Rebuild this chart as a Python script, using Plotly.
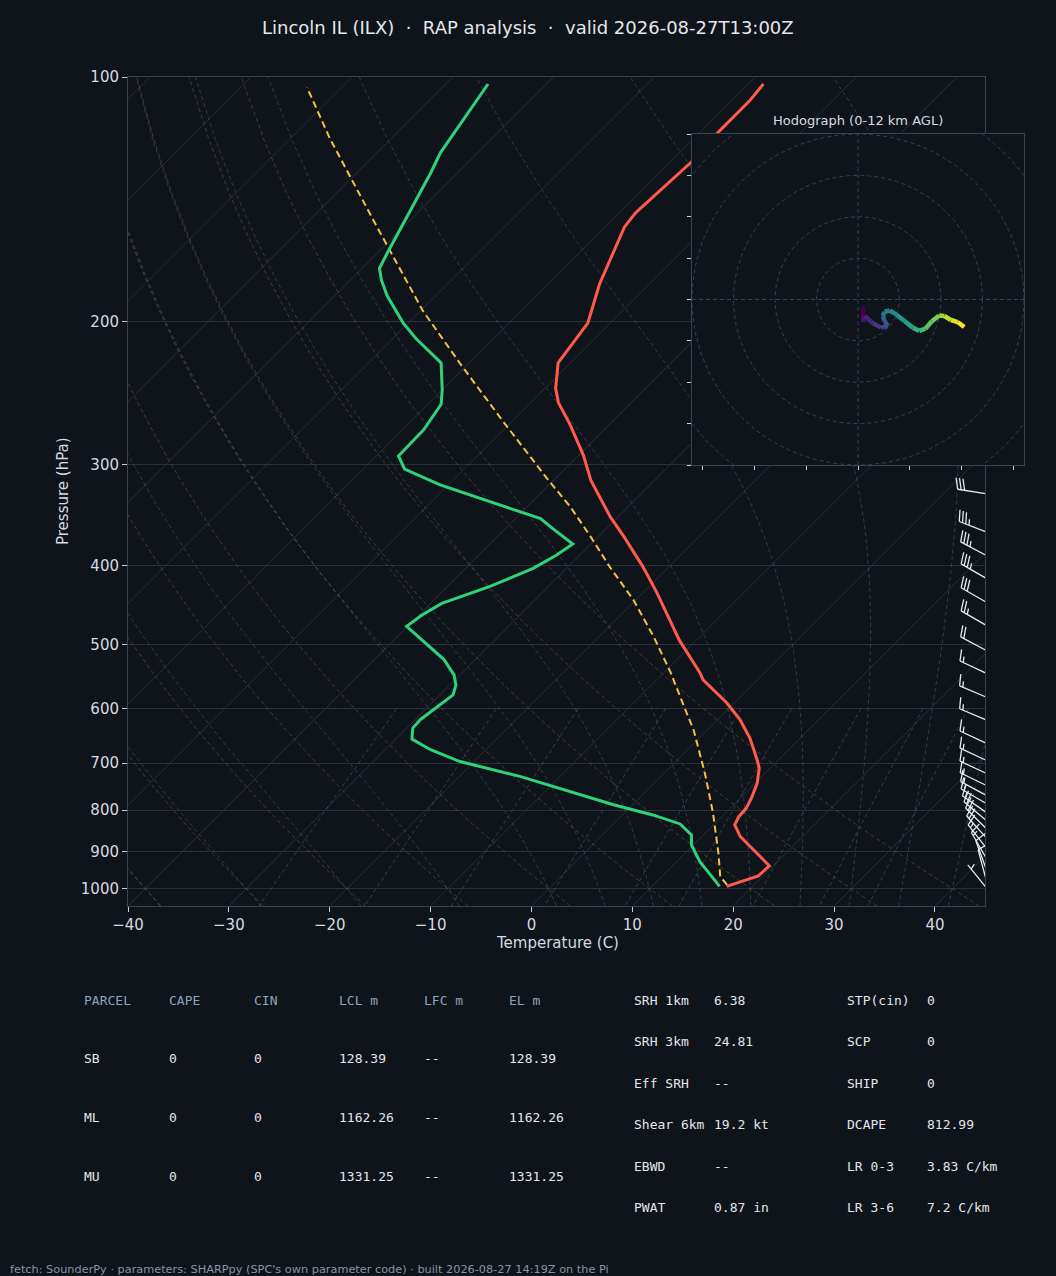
import numpy as np
import plotly.graph_objects as go
from plotly.colors import sample_colorscale

# ---- sounding values (hPa / degC) ----
temp_p = [993, 964, 937, 862, 834, 815, 796, 773, 741, 710, 694, 652, 619, 590, 553, 542,
          494, 432, 401, 368, 348, 326, 314, 292, 268, 252, 242, 225, 201, 180, 171, 153,
          147, 127, 117, 107, 102]
temp_c = [17.4, 19.5, 19.6, 13.8, 12.1, 11.7, 11.6, 11.1, 10.2, 8.9, 7.9, 5.0, 2.2, -0.8, -5.4, -6.4,
          -11.7, -18.6, -22.6, -27.5, -30.8, -34.3, -36.3, -39.6, -43.9, -47.2, -48.9, -51.2, -52.2, -54.9, -55.9, -58.1,
          -58.4, -57.9, -58.2, -58.2, -58.5]

dwpt_p = [993, 926, 883, 858, 832, 811, 788, 766, 748, 727, 697, 674, 654, 634, 619, 604,
          577, 561, 545, 522, 475, 460, 445, 424, 403, 388, 376, 360, 350, 318, 304, 293,
          272, 253, 243, 225, 210, 201, 186, 178, 172, 165, 131, 124, 102]
dwpt_c = [16.7, 12.3, 9.8, 8.8, 6.6, 3.0, -1.9, -6.2, -9.7, -14.0, -21.4, -25.5, -28.4, -29.4, -29.5, -29.2,
          -28.7, -29.4, -30.6, -33.1, -40.1, -39.7, -38.9, -35.8, -33.3, -32.3, -31.8, -35.3, -37.5, -50.8, -55.9, -57.8,
          -57.9, -58.7, -60.0, -62.8, -67.7, -70.5, -74.8, -76.9, -78.3, -79.0, -82.7, -83.7, -85.8]

prcl_p = [989, 966, 904, 807, 720, 637, 608, 542, 489, 441, 401, 368, 338, 312, 265, 226, 194, 150, 119, 103]
prcl_c = [17.3, 15.8, 13.3, 8.8, 4.0, -1.4, -3.7, -9.3, -14.6, -20.2, -25.9, -30.8, -35.8, -40.9, -51.0,
          -60.7, -69.8, -83.7, -96.1, -103.4]

# wind barbs (kt, direction from)
barb_p = [994, 967, 940, 913, 888, 863, 841, 822, 804, 784, 766, 745, 720, 694, 661, 619, 580, 542,
          508, 473, 443, 414, 388, 363, 326]
barb_spd = [5, 10, 10, 15, 15, 20, 20, 20, 15, 15, 15, 15, 15, 15, 15, 15, 15, 15, 20, 25, 30, 35, 35, 35, 30]
barb_dir = [321, 345, 340, 330, 322, 318, 315, 310, 305, 300, 298, 296, 295, 295, 295, 293, 293, 295,
            298, 300, 300, 300, 298, 291, 279]

# hodograph (kt)
hodo_u = [2.4, 2.4, 3.2, 7.2, 11.2, 14.4, 12.8, 12.0, 12.8, 15.2, 18.4, 22.4, 26.4, 29.6, 32.5, 35.7,
          39.2, 41.6, 44.8, 48.0, 51.2]
hodo_v = [-3.5, -10.9, -8.0, -11.5, -13.6, -12.8, -10.4, -8.0, -5.9, -5.3, -7.2, -10.4, -13.6, -15.2,
          -14.1, -10.4, -7.7, -8.0, -9.9, -10.9, -13.3]

# background reference lines
DRY_T0 = list(range(-40, 41, 10))
MOIST_T0 = [-40, -30, -20, -10, 0, 5, 10, 15, 20, 25, 30, 35, 40, 45]
MIX_W = [0.0004, 0.001, 0.002, 0.004, 0.007, 0.01, 0.016, 0.024, 0.032]
ISOTHERMS = list(range(-120, 41, 10))

# table
tbl_head = ["PARCEL", "CAPE", "CIN", "LCL m", "LFC m", "EL m"]
tbl_rows = [["SB", "0", "0", "128.39", "--", "128.39"],
            ["ML", "0", "0", "1162.26", "--", "1162.26"],
            ["MU", "0", "0", "1331.25", "--", "1331.25"]]
idx_left = [("SRH 1km", "6.38"), ("SRH 3km", "24.81"), ("Eff SRH", "--"),
            ("Shear 6km", "19.2 kt"), ("EBWD", "--"), ("PWAT", "0.87 in")]
idx_right = [("STP(cin)", "0"), ("SCP", "0"), ("SHIP", "0"),
             ("DCAPE", "812.99"), ("LR 0-3", "3.83 C/km"), ("LR 3-6", "7.2 C/km")]

# ---- layout geometry ----
FIG_W, FIG_H = 1056, 1276
PL, PR, PT, PB = 128, 985.4, 77, 906
W_PX, H_PX = PR - PL, PB - PT
T_MIN, T_MAX = -40, 45
P_BOT, P_TOP = 1050, 100
LOGSPAN = np.log10(P_BOT) - np.log10(P_TOP)
SKEW = H_PX / (W_PX / (T_MAX - T_MIN))   # 45 degree skew

BG = "#0f131a"
GRID = "#29303a"
SPINE = "#3a4350"
TXT = "#d6dae0"


def fx(px):
    return px / FIG_W


def fy(py):
    return 1 - py / FIG_H


def skew_x(t, p):
    t = np.asarray(t, dtype=float)
    p = np.asarray(p, dtype=float)
    return t + SKEW * (np.log10(P_BOT) - np.log10(p)) / LOGSPAN


def joined(curves):
    xs, ys = [], []
    for x, y in curves:
        xs += list(x) + [None]
        ys += list(y) + [None]
    return xs, ys


RD, CP, LV = 287.04, 1005.7, 2.501e6


def moist_dtdp(p, t):
    tc = t - 273.15
    es = 6.112 * np.exp(17.67 * tc / (tc + 243.5))
    rs = 0.622 * es / (p - es)
    return (RD * t + LV * rs) / (CP + LV * LV * rs * 0.622 / (RD * t * t)) / p


def moist_curve(t0c, p_out):
    def run(p_steps):
        t = t0c + 273.15
        out = [t]
        for i in range(len(p_steps) - 1):
            p0, h = p_steps[i], p_steps[i + 1] - p_steps[i]
            k1 = moist_dtdp(p0, t)
            k2 = moist_dtdp(p0 + h / 2, t + h * k1 / 2)
            k3 = moist_dtdp(p0 + h / 2, t + h * k2 / 2)
            k4 = moist_dtdp(p0 + h, t + h * k3)
            t = t + h * (k1 + 2 * k2 + 2 * k3 + k4) / 6
            out.append(t)
        return np.array(out)
    up = np.arange(1000, P_TOP - 1, -2.0)
    dn = np.arange(1000, P_BOT + 1, 2.0)
    t_up, t_dn = run(up), run(dn)
    p_all = np.concatenate([up[::-1], dn[1:]])
    t_all = np.concatenate([t_up[::-1], t_dn[1:]])
    return np.interp(p_out, p_all, t_all) - 273.15


fig = go.Figure()

p_grid = np.linspace(P_BOT, P_TOP, 50)

# isotherms
iso = [(skew_x([t, t], [P_BOT, P_TOP]), [P_BOT, P_TOP]) for t in ISOTHERMS]
x, y = joined(iso)
fig.add_trace(go.Scatter(x=x, y=y, mode="lines", line=dict(color=GRID, width=1), hoverinfo="skip"))

# dry adiabats
dry = []
for t0 in DRY_T0:
    t = (t0 + 273.15) * (p_grid / 1000.0) ** 0.2857 - 273.15
    dry.append((skew_x(t, p_grid), p_grid))
x, y = joined(dry)
fig.add_trace(go.Scatter(x=x, y=y, mode="lines", hoverinfo="skip",
                         line=dict(color="rgba(165,115,60,0.42)", width=1, dash="4px,3px")))

# moist adiabats
moist = [(skew_x(moist_curve(t0, p_grid), p_grid), p_grid) for t0 in MOIST_T0]
x, y = joined(moist)
fig.add_trace(go.Scatter(x=x, y=y, mode="lines", hoverinfo="skip",
                         line=dict(color="rgba(110,130,155,0.36)", width=1, dash="4px,3px")))

# mixing ratio lines
p_mix = np.linspace(600, P_BOT, 30)
mix = []
for w in MIX_W:
    e = p_mix * w / (0.622 + w)
    lg = np.log(e / 6.112)
    td = 243.5 * lg / (17.67 - lg)
    mix.append((skew_x(td, p_mix), p_mix))
x, y = joined(mix)
fig.add_trace(go.Scatter(x=x, y=y, mode="lines", hoverinfo="skip",
                         line=dict(color="rgba(95,135,150,0.40)", width=1, dash="4px,3px")))

# profiles
fig.add_trace(go.Scatter(x=skew_x(prcl_c, prcl_p), y=prcl_p, mode="lines",
                         line=dict(color="#f4c242", width=2, dash="7px,4px")))
fig.add_trace(go.Scatter(x=skew_x(temp_c, temp_p), y=temp_p, mode="lines",
                         line=dict(color="#ff5a4b", width=3)))
fig.add_trace(go.Scatter(x=skew_x(dwpt_c, dwpt_p), y=dwpt_p, mode="lines",
                         line=dict(color="#2fd27a", width=3)))


# wind barbs along the right edge
def barb_lines(pres, spd, drc, length=28.0):
    ppd = W_PX / (T_MAX - T_MIN)
    ppdec = H_PX / LOGSPAN
    xs, ys = [], []
    spacing, hgt, wid = 0.125 * length, 0.4 * length, 0.25 * length
    for p, s_kt, d in zip(pres, spd, drc):
        r = np.deg2rad(d)
        sx, sy = np.sin(r), np.cos(r)
        nx, ny = sy, -sx
        bx = (T_MAX - T_MIN) * ppd
        by = (np.log10(P_BOT) - np.log10(p)) * ppdec

        def pt(off, h=0.0, a=0.0):
            return (bx + (off + a) * sx + h * nx, by + (off + a) * sy + h * ny)

        segs = [(pt(0), pt(length))]
        rem = int(5 * round(s_kt / 5.0))
        n50, rem = divmod(rem, 50)
        n10, rem = divmod(rem, 10)
        off = length
        for _ in range(n50):
            if off != length:
                off += spacing / 2
            segs += [(pt(off), pt(off, hgt, -wid / 2)), (pt(off, hgt, -wid / 2), pt(off - wid))]
            off -= wid + spacing
        for _ in range(n10):
            segs.append((pt(off), pt(off, hgt, wid / 2)))
            off -= spacing
        if rem >= 5:
            if off == length:
                off -= 1.5 * spacing
            segs.append((pt(off), pt(off, hgt / 2, wid / 4)))
        for a, b in segs:
            for X, Y in (a, b):
                xs.append(T_MIN + X / ppd)
                ys.append(10 ** (np.log10(P_BOT) - Y / ppdec))
            xs.append(None)
            ys.append(None)
    return xs, ys


bx, by = barb_lines(barb_p, barb_spd, barb_dir)
fig.add_trace(go.Scatter(x=bx, y=by, mode="lines", line=dict(color="#e6ebf0", width=1.3), hoverinfo="skip"))

# ---- hodograph inset ----
theta = np.linspace(0, 2 * np.pi, 181)
rings = [(r * np.cos(theta), r * np.sin(theta)) for r in (20, 40, 60, 80, 100)]
rings += [([-80, 80], [0, 0]), ([0, 0], [-80, 80])]
x, y = joined(rings)
fig.add_trace(go.Scatter(x=x, y=y, mode="lines", xaxis="x2", yaxis="y2", hoverinfo="skip",
                         line=dict(color="#364050", width=1, dash="4px,3px")))

seg_cols = sample_colorscale("Viridis", list(np.linspace(0, 1, len(hodo_u) - 1)))
for i in range(len(hodo_u) - 1):
    fig.add_trace(go.Scatter(x=hodo_u[i:i + 2], y=hodo_v[i:i + 2], mode="lines",
                             xaxis="x2", yaxis="y2", hoverinfo="skip",
                             line=dict(color=seg_cols[i], width=4.5)))

# ---- axes ----
fig.update_layout(
    width=FIG_W, height=FIG_H, autosize=False,
    margin=dict(l=0, r=0, t=0, b=0, pad=0),
    paper_bgcolor=BG, plot_bgcolor=BG, showlegend=False,
    font=dict(family="DejaVu Sans", color=TXT),
    xaxis=dict(domain=[fx(PL), fx(PR)], range=[T_MIN, T_MAX], anchor="y", automargin=False,
               tickvals=list(range(-40, 41, 10)),
               ticktext=[str(v).replace("-", "\u2212") for v in range(-40, 41, 10)],
               ticks="outside", ticklen=5, tickcolor="#c9ced6", tickfont=dict(size=15, color=TXT),
               showgrid=False, zeroline=False, showline=True, mirror=True, linecolor=SPINE),
    yaxis=dict(domain=[fy(PB), fy(PT)], type="log", anchor="x", automargin=False,
               range=[np.log10(P_BOT), np.log10(P_TOP)],
               tickvals=list(range(100, 1001, 100)), ticktext=[str(v) for v in range(100, 1001, 100)],
               ticks="outside", ticklen=5, tickcolor="#c9ced6", tickfont=dict(size=15, color=TXT),
               showgrid=True, gridcolor=GRID, gridwidth=1, zeroline=False,
               showline=True, mirror=True, linecolor=SPINE),
    xaxis2=dict(domain=[fx(692), fx(1024)], range=[-80, 80], anchor="y2", automargin=False,
                tickvals=list(range(-75, 76, 25)), showticklabels=False,
                ticks="outside", ticklen=4, tickcolor="#c9ced6",
                showgrid=False, zeroline=False, showline=True, mirror=True, linecolor=SPINE),
    yaxis2=dict(domain=[fy(465), fy(134)], range=[-80, 80], anchor="x2", automargin=False,
                tickvals=list(range(-80, 81, 20)), showticklabels=False,
                ticks="outside", ticklen=4, tickcolor="#c9ced6",
                showgrid=False, zeroline=False, showline=True, mirror=True, linecolor=SPINE),
)

ann = []


def text(px, py, s, size=13, color=TXT, family="DejaVu Sans", xanchor="left", angle=0):
    ann.append(dict(x=fx(px), y=fy(py), xref="paper", yref="paper", text=s, showarrow=False,
                    xanchor=xanchor, yanchor="middle", textangle=angle,
                    font=dict(size=size, color=color, family=family)))


text(528, 27, "Lincoln IL (ILX)  \u00b7  RAP analysis  \u00b7  valid 2026-08-27T13:00Z",
     size=18, color="#e4e7eb", xanchor="center")
text(557, 943, "Temperature (C)", size=15, xanchor="center")
text(63, 491, "Pressure (hPa)", size=15, xanchor="center", angle=-90)
text(858, 120, "Hodograph (0-12 km AGL)", size=13, xanchor="center")

# table text (left anchors shifted by the annotation padding)
MONO = "DejaVu Sans Mono"
col_x = [82, 167, 252, 337, 422, 507]
for cx, h in zip(col_x, tbl_head):
    text(cx, 1000, h, color="#8ea3ba", family=MONO)
for ry, row in zip([1058, 1117, 1176], tbl_rows):
    for cx, v in zip(col_x, row):
        text(cx, ry, v, color="#e3e6ea", family=MONO)
idx_y = [1000, 1041, 1083, 1124, 1166, 1207]
for ry, (lab, val) in zip(idx_y, idx_left):
    text(632, ry, lab, color="#e3e6ea", family=MONO)
    text(712, ry, val, color="#e3e6ea", family=MONO)
for ry, (lab, val) in zip(idx_y, idx_right):
    text(845, ry, lab, color="#e3e6ea", family=MONO)
    text(925, ry, val, color="#e3e6ea", family=MONO)

text(8, 1269, "fetch: SounderPy \u00b7 parameters: SHARPpy (SPC's own parameter code) \u00b7 "
     "built 2026-08-27 14:19Z on the Pi", size=11.3, color="#8a94a2")

fig.update_layout(annotations=ann)

# page body without the default white margin, no modebar
fig.write_html("out.html", config={"displayModeBar": False},
               post_script="document.body.style.margin='0';document.body.style.background='%s';" % BG)
